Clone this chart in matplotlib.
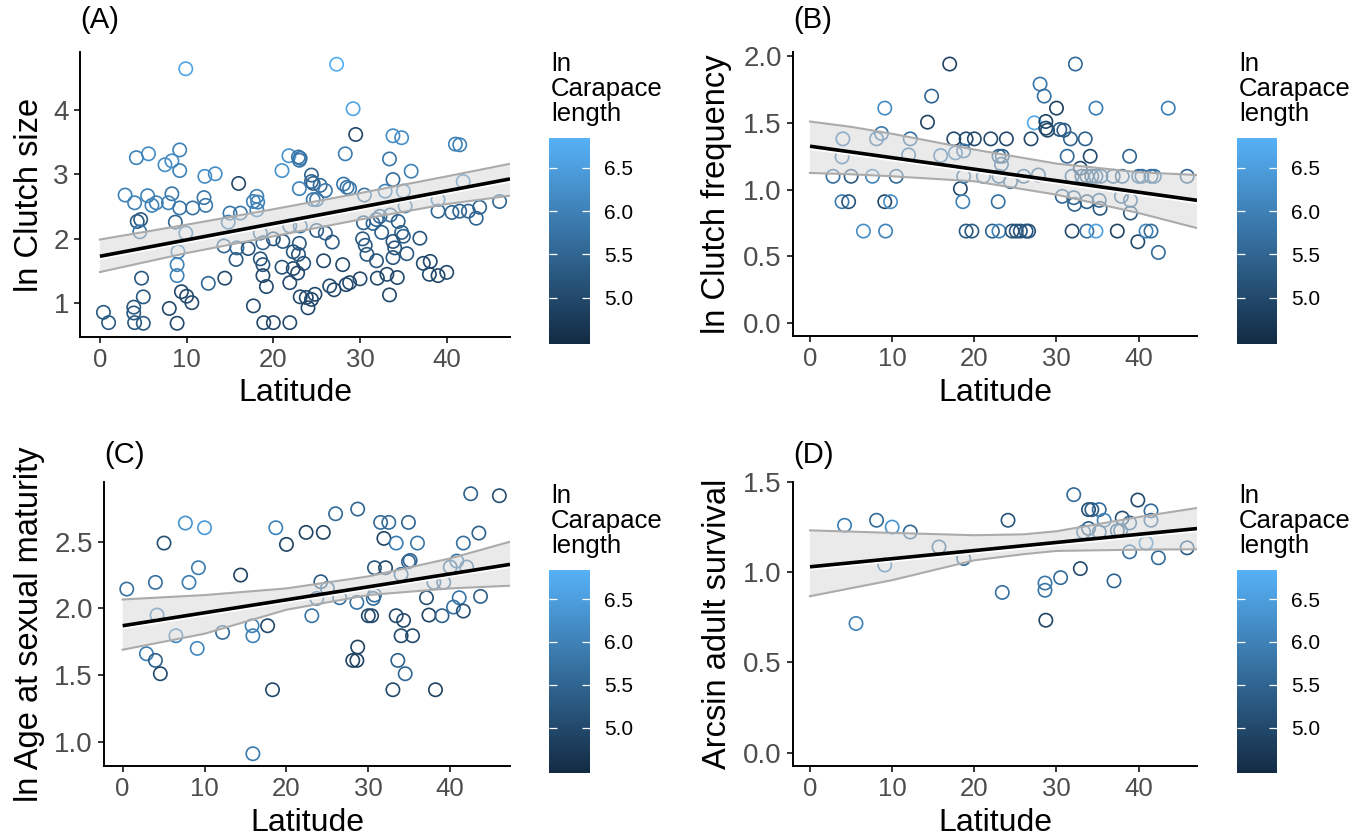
import numpy as np
import matplotlib.pyplot as plt
from matplotlib.colors import LinearSegmentedColormap, Normalize
from matplotlib.transforms import offset_copy

plt.rcParams['font.family'] = ['Liberation Sans', 'DejaVu Sans']

# ---- (A) ln Clutch size ----
lat_a = [9.9, 27.3, 29.2, 29.5, 33.8, 34.8, 41.0, 41.5, 9.2, 5.6, 4.2, 7.5, 8.3, 9.2,
         12.1, 13.3, 21.0, 21.8, 22.9, 23.1, 23.0, 28.3, 33.4, 35.9, 41.9, 16.0, 24.4,
         24.4, 24.6, 25.4, 23.0, 26.0, 28.1, 28.5, 28.8, 33.8, 2.9, 4.0, 5.5, 6.0, 6.5,
         8.3, 7.9, 9.2, 10.7, 12.0, 12.2, 17.7, 18.1, 18.2, 18.1, 15.0, 16.2, 14.8, 24.6,
         25.0, 30.5, 32.9, 35.0, 35.2, 39.0, 39.0, 40.6, 41.5, 42.5, 43.8, 43.4, 46.1,
         4.3, 4.7, 4.6, 8.7, 9.9, 9.0, 8.9, 8.9, 18.5, 18.8, 20.0, 21.1, 21.9, 23.1,
         23.0, 22.3, 22.9, 23.5, 22.3, 22.8, 25.0, 26.0, 26.8, 25.8, 28.0, 30.4, 31.9,
         32.3, 31.5, 32.5, 33.5, 34.4, 34.8, 35.0, 36.9, 30.3, 30.6, 30.8, 31.9, 33.8,
         34.0, 33.8, 35.4, 37.3, 38.1, 38.0, 39.0, 40.0, 14.3, 15.8, 17.1, 15.7, 18.5,
         18.8, 18.8, 19.2, 21.0, 21.9, 14.4, 12.5, 4.8, 5.0, 3.9, 3.9, 4.0, 5.0, 0.4,
         1.0, 8.0, 8.9, 9.4, 10.0, 10.6, 17.7, 18.9, 20.0, 21.9, 23.1, 23.8, 24.4, 24.0,
         24.8, 26.5, 27.0, 28.4, 28.8, 30.0, 32.0, 33.1, 34.3, 33.4]
clutch_a = [4.64, 4.71, 4.02, 3.62, 3.60, 3.57, 3.47, 3.46, 3.38, 3.32, 3.26, 3.15, 3.21,
            3.06, 2.97, 3.01, 3.06, 3.29, 3.27, 3.25, 3.22, 3.32, 3.24, 3.05, 2.89, 2.86,
            2.99, 2.89, 2.86, 2.83, 2.78, 2.75, 2.85, 2.80, 2.78, 2.92, 2.68, 2.56, 2.67,
            2.52, 2.56, 2.70, 2.56, 2.48, 2.48, 2.64, 2.52, 2.58, 2.66, 2.57, 2.45, 2.40,
            2.40, 2.26, 2.61, 2.61, 2.68, 2.74, 2.74, 2.51, 2.61, 2.43, 2.41, 2.43, 2.43,
            2.49, 2.32, 2.58, 2.27, 2.30, 2.11, 2.26, 2.09, 1.80, 1.60, 1.43, 2.09, 1.94,
            2.00, 1.96, 2.20, 2.20, 1.93, 1.80, 1.76, 1.62, 1.54, 1.47, 2.13, 2.09, 1.95,
            1.66, 1.60, 2.25, 2.30, 2.35, 2.24, 2.10, 2.37, 2.27, 2.10, 2.04, 2.01, 2.00,
            1.90, 1.76, 1.66, 1.96, 1.86, 1.71, 1.77, 1.62, 1.65, 1.45, 1.43, 1.48, 1.89,
            1.86, 1.85, 1.68, 1.69, 1.60, 1.43, 1.26, 1.56, 1.32, 1.39, 1.31, 1.39, 1.10,
            0.94, 0.85, 0.70, 0.69, 0.86, 0.70, 0.92, 0.69, 1.18, 1.11, 1.01, 0.96, 0.70,
            0.70, 0.70, 1.10, 1.09, 1.06, 0.93, 1.14, 1.27, 1.21, 1.29, 1.32, 1.38, 1.39,
            1.45, 1.40, 1.13]
cl_a = [6.6, 6.8, 6.6, 5.0, 6.2, 6.2, 6.0, 6.0, 6.0, 6.2, 6.0, 6.2, 6.2, 6.0, 6.2, 6.2,
        6.3, 6.3, 5.8, 5.8, 5.8, 5.9, 5.8, 6.0, 6.2, 5.0, 5.5, 5.5, 5.5, 5.6, 6.0, 5.8,
        5.8, 5.8, 5.8, 5.6, 6.0, 6.0, 6.0, 6.0, 6.0, 5.8, 6.0, 5.8, 5.7, 5.8, 5.8, 6.0,
        6.0, 6.0, 6.0, 5.8, 5.8, 6.0, 5.8, 5.8, 5.8, 6.0, 6.2, 6.0, 6.0, 5.5, 5.5, 5.5,
        5.5, 5.5, 5.5, 5.5, 5.3, 5.3, 5.8, 5.5, 6.0, 6.0, 6.0, 6.0, 5.8, 5.5, 5.2, 5.3,
        5.8, 5.8, 5.3, 5.2, 5.2, 5.2, 5.0, 5.0, 5.4, 5.4, 5.3, 5.0, 5.0, 5.4, 5.5, 5.5,
        5.5, 5.4, 5.6, 5.4, 5.4, 5.4, 5.2, 5.3, 5.3, 5.3, 5.2, 5.2, 5.2, 5.2, 5.3, 5.0,
        5.0, 5.0, 5.0, 5.0, 5.5, 5.6, 5.2, 5.3, 5.2, 5.2, 5.0, 5.0, 5.2, 5.0, 5.0, 5.5,
        5.3, 5.3, 5.3, 5.3, 5.3, 5.3, 5.3, 5.3, 5.0, 5.0, 5.0, 5.0, 5.0, 5.0, 5.0, 5.0,
        5.0, 5.0, 5.0, 5.0, 5.0, 5.0, 5.0, 5.0, 5.0, 5.0, 5.0, 5.0, 5.0, 5.0, 5.0]
fit_x_a = [0, 10, 20, 30, 40, 47.3]
fit_lo_a = [1.485, 1.78, 2.04, 2.30, 2.54, 2.67]
fit_hi_a = [1.99, 2.22, 2.46, 2.71, 2.97, 3.165]
fit_line_a = [1.73, 2.93]

# ---- (B) ln Clutch frequency ----
lat_b = [17.0, 32.3, 14.8, 9.1, 28.0, 28.5, 30.0, 34.8, 43.6, 14.3, 27.3, 28.7, 28.7,
         28.9, 30.4, 30.9, 4.0, 8.1, 8.7, 12.2, 17.5, 19.0, 20.0, 22.0, 23.9, 26.9, 31.7,
         33.5, 17.7, 18.7, 3.9, 12.0, 15.9, 23.0, 23.4, 23.3, 31.3, 34.1, 38.9, 2.8, 5.0,
         7.6, 10.5, 3.9, 4.7, 9.1, 9.8, 6.5, 9.2, 18.3, 18.6, 18.7, 21.1, 23.0, 24.4, 26.0,
         22.9, 19.0, 19.7, 22.2, 23.0, 24.6, 25.1, 25.6, 26.3, 26.6, 27.8, 31.9, 32.9,
         33.1, 33.7, 34.3, 34.8, 35.4, 30.7, 32.1, 32.2, 33.7, 35.2, 35.3, 31.9, 33.7,
         34.8, 36.9, 38.0, 37.9, 39.0, 39.0, 37.4, 40.0, 40.4, 41.5, 41.9, 45.9, 39.9,
         40.9, 41.5, 42.4]
freq_b = [1.94, 1.94, 1.70, 1.61, 1.79, 1.70, 1.61, 1.61, 1.61, 1.505, 1.50, 1.51, 1.46,
          1.445, 1.45, 1.445, 1.38, 1.38, 1.42, 1.38, 1.38, 1.38, 1.38, 1.38, 1.38, 1.38,
          1.38, 1.38, 1.275, 1.29, 1.245, 1.26, 1.255, 1.25, 1.25, 1.19, 1.25, 1.25, 1.25,
          1.10, 1.10, 1.10, 1.10, 0.91, 0.91, 0.91, 0.91, 0.69, 0.69, 1.0075, 0.91, 1.10,
          1.10, 1.10, 1.06, 1.10, 0.91, 0.69, 0.69, 0.69, 0.69, 0.69, 0.69, 0.69, 0.69,
          0.69, 1.11, 1.10, 1.16, 1.10, 1.10, 1.10, 1.10, 1.10, 0.95, 0.94, 0.89, 0.91,
          0.92, 0.86, 0.69, 0.69, 0.69, 1.10, 1.10, 0.95, 0.92, 0.825, 0.69, 1.10, 1.10,
          1.10, 1.10, 1.10, 0.61, 0.69, 0.69, 0.53]
cl_b = [4.9, 5.6, 5.5, 6.2, 5.8, 5.7, 4.9, 5.9, 5.9, 4.9, 6.7, 4.9, 5.0, 5.0, 5.3, 5.3,
        5.9, 5.8, 5.8, 5.7, 5.0, 5.0, 5.0, 5.0, 5.0, 5.0, 5.5, 5.4, 6.0, 5.8, 5.9, 5.8,
        5.9, 5.4, 5.4, 5.6, 5.6, 5.0, 5.5, 5.7, 5.3, 6.1, 5.6, 5.9, 5.2, 5.0, 6.2, 6.2,
        6.0, 5.0, 6.0, 5.8, 5.8, 5.6, 5.6, 5.6, 5.7, 5.3, 5.3, 5.4, 6.0, 5.2, 5.2, 5.2,
        5.2, 5.2, 5.6, 5.6, 5.0, 5.4, 5.4, 5.4, 5.6, 5.6, 5.5, 5.5, 5.5, 5.3, 5.5, 5.3,
        5.0, 5.7, 6.5, 5.5, 5.5, 5.6, 5.6, 5.3, 4.9, 5.7, 5.7, 5.7, 5.7, 5.5, 5.0, 6.0,
        5.6, 5.6]
fit_x_b = [0, 5, 10, 20, 30, 40, 47.1]
fit_lo_b = [1.125, 1.115, 1.10, 1.0625, 0.9625, 0.825, 0.7125]
fit_hi_b = [1.51, 1.47, 1.418, 1.30, 1.195, 1.13, 1.11]
fit_line_b = [1.325, 0.92]

# ---- (C) ln Age at sexual maturity ----
lat_c = [0.5, 4.0, 5.05, 7.66, 10.0, 8.1, 9.25, 4.2, 6.5, 9.1, 2.9, 4.0, 4.6, 12.2, 14.4,
         15.8, 15.9, 17.7, 18.3, 15.9, 18.7, 20.0, 22.4, 24.5, 24.2, 25.0, 23.7, 26.5,
         23.1, 26.0, 28.7, 28.6, 30.0, 30.4, 28.7, 28.1, 28.6, 30.75, 30.6, 30.75, 32.1,
         31.5, 32.5, 31.9, 33.4, 34.9, 36.0, 34.9, 35.1, 34.0, 33.4, 34.3, 34.0, 35.4,
         33.6, 34.5, 33.0, 37.1, 37.4, 39.0, 38.2, 38.0, 39.2, 40.0, 40.8, 42.0, 40.4,
         41.1, 41.6, 41.6, 43.5, 43.7, 42.5, 46.0]
age_c = [2.145, 2.195, 2.49, 2.64, 2.605, 2.195, 2.305, 1.95, 1.795, 1.70, 1.66, 1.61,
         1.51, 1.82, 2.25, 1.87, 1.795, 1.87, 1.39, 0.91, 2.605, 2.48, 2.57, 2.57, 2.20,
         2.15, 2.075, 2.08, 1.945, 2.71, 2.745, 2.045, 1.945, 1.945, 1.71, 1.61, 1.61,
         2.305, 2.075, 2.10, 2.305, 2.645, 2.645, 2.525, 2.49, 2.645, 2.49, 2.35, 2.36,
         2.255, 1.945, 1.91, 1.795, 1.795, 1.61, 1.51, 1.39, 2.08, 1.95, 1.945, 1.39,
         2.195, 2.195, 2.31, 2.355, 2.31, 2.01, 2.08, 1.98, 2.49, 2.565, 2.09, 2.86, 2.845]
cl_c = [5.7, 5.7, 5.1, 6.3, 6.4, 5.9, 5.9, 6.0, 6.1, 6.1, 5.9, 5.4, 5.0, 5.6, 4.9, 6.0,
        6.0, 5.0, 5.0, 5.9, 6.0, 4.9, 4.9, 4.9, 5.3, 5.6, 5.7, 5.7, 5.8, 5.6, 5.5, 5.7,
        5.0, 5.0, 4.9, 4.9, 4.9, 5.3, 5.6, 5.6, 5.0, 5.6, 5.6, 4.9, 5.9, 5.5, 5.8, 5.5,
        5.5, 5.6, 5.0, 5.0, 5.0, 5.0, 5.4, 5.5, 5.0, 5.1, 4.9, 5.4, 4.9, 5.6, 5.6, 5.6,
        5.8, 5.8, 5.7, 5.8, 5.1, 5.7, 5.4, 5.4, 5.4, 5.1]
fit_x_c = [0, 10, 20, 30, 40, 47.3]
fit_lo_c = [1.69, 1.81, 1.99, 2.10, 2.15, 2.17]
fit_hi_c = [2.067, 2.10, 2.15, 2.24, 2.375, 2.5]
fit_line_c = [1.87, 2.33]

# ---- (D) Arcsin adult survival ----
lat_d = [4.2, 8.1, 10.0, 12.2, 9.1, 15.7, 18.7, 5.6, 24.1, 23.4, 28.6, 28.6, 28.7, 30.5,
         32.9, 32.1, 33.9, 34.3, 35.2, 35.8, 38.0, 39.9, 41.5, 41.5, 38.9, 33.9, 33.3,
         35.2, 37.4, 37.8, 37.0, 38.9, 40.9, 42.4, 45.9]
surv_d = [1.26, 1.288, 1.25, 1.223, 1.04, 1.14, 1.076, 0.716, 1.288, 0.888, 0.94, 0.90,
          0.734, 0.97, 1.02, 1.43, 1.347, 1.347, 1.347, 1.288, 1.30, 1.40, 1.34, 1.288,
          1.273, 1.242, 1.223, 1.223, 1.23, 1.23, 0.952, 1.113, 1.162, 1.08, 1.135]
cl_d = [5.9, 5.6, 6.3, 5.5, 5.9, 5.6, 5.6, 6.0, 5.2, 5.7, 5.8, 5.8, 4.9, 5.6, 5.0, 5.6,
        5.1, 5.3, 5.6, 6.0, 5.1, 5.0, 5.6, 5.6, 5.6, 5.4, 5.8, 5.6, 5.4, 5.6, 5.5, 5.7,
        6.3, 5.6, 5.3]
fit_x_d = [0, 10, 20, 26, 30, 40, 47.1]
fit_lo_d = [0.867, 0.956, 1.066, 1.10, 1.118, 1.125, 1.127]
fit_hi_d = [1.232, 1.218, 1.205, 1.21, 1.227, 1.306, 1.356]
fit_line_d = [1.03, 1.242]

cbar_ticks = [5.0, 5.5, 6.0, 6.5]

W, H = 1369, 839
fig = plt.figure(figsize=(W / 100, H / 100), dpi=100)
cmap = LinearSegmentedColormap.from_list('gg_blues', ['#132B43', '#56B1F7'])
norm = Normalize(4.47, 6.84)


def px_axes(l, t, r, b):
    # pixel box -> figure fraction
    return fig.add_axes([l / W, 1 - b / H, (r - l) / W, (b - t) / H])


def draw_panel(box, cbox, tag, tag_y, lat, yv, cl, fx, flo, fhi, fline, xlim, ylim,
               yticks, ylabel, yfmt, ylab_x, xlab_y):
    l, t, r, b = box
    ax = px_axes(*box)
    ax.scatter(lat, yv, s=92, facecolors='none', edgecolors=cmap(norm(np.array(cl))),
               linewidths=1.2, zorder=2)
    ax.fill_between(fx, flo, fhi, facecolor='#d9d9d9', alpha=0.55, lw=0, zorder=3)
    ax.plot(fx, flo, color='#ababab', lw=1.5, zorder=4)
    ax.plot(fx, fhi, color='#ababab', lw=1.5, zorder=4)
    lx = [fx[0], fx[-1]]
    shifted = offset_copy(ax.transData, fig=fig, y=-2.5, units='dots')
    ax.plot(lx, fline, color='white', lw=1.6, zorder=5, transform=shifted)
    ax.plot(lx, fline, color='black', lw=2.6, zorder=6, solid_capstyle='butt')

    ax.set_xlim(*xlim)
    ax.set_ylim(*ylim)
    ax.set_xticks([0, 10, 20, 30, 40])
    ax.set_yticks(yticks)
    ax.set_yticklabels([yfmt.format(v) for v in yticks])
    for s in ['top', 'right']:
        ax.spines[s].set_visible(False)
    for s in ['left', 'bottom']:
        ax.spines[s].set_linewidth(1.4)
    ax.tick_params(length=4, width=1.1, labelcolor='#4D4D4D')
    ax.tick_params(axis='x', labelsize=18.5, pad=4)
    ax.tick_params(axis='y', labelsize=20, pad=4)
    ax.set_xlabel('Latitude', fontsize=23)
    ax.set_ylabel(ylabel, fontsize=23.5)
    ax.xaxis.set_label_coords(0.5, (b - xlab_y) / (b - t))
    ax.xaxis.label.set_va('center')
    ax.yaxis.set_label_coords((ylab_x - l) / (r - l), 0.5)
    ax.yaxis.label.set_va('center')
    fig.text(l / W, 1 - tag_y / H, tag, fontsize=21, va='center', ha='left')

    cax = px_axes(*cbox)
    sm = plt.cm.ScalarMappable(norm=norm, cmap=cmap)
    cb = fig.colorbar(sm, cax=cax)
    cb.outline.set_visible(False)
    cb.set_ticks(cbar_ticks)
    cb.set_ticklabels([f'{v:.1f}' for v in cbar_ticks])
    cax.yaxis.set_ticks_position('both')
    cax.tick_params(direction='in', color='white', length=6, width=0.9,
                    labelsize=15, labelright=True, labelleft=False, pad=10)
    fig.text((cbox[0] + 2) / W, 1 - (cbox[1] - 86) / H, 'ln\nCarapace\nlength',
             fontsize=18.5, va='top', ha='left', linespacing=1.05)
    return ax


draw_panel((80, 52, 510, 337), (549, 138, 590, 344), '(A)', 20, lat_a, clutch_a, cl_a,
           fit_x_a, fit_lo_a, fit_hi_a, fit_line_a, (-2.3, 47.3), (0.477, 4.90),
           [1, 2, 3, 4], 'ln Clutch size', '{:.0f}', 30, 393)
draw_panel((793, 52, 1197, 336), (1237, 138, 1277, 344), '(B)', 20, lat_b, freq_b, cl_b,
           fit_x_b, fit_lo_b, fit_hi_b, fit_line_b, (-2.07, 47.1), (-0.095, 2.03),
           [0.0, 0.5, 1.0, 1.5, 2.0], 'ln Clutch frequency', '{:.1f}', 717, 393)
draw_panel((104, 482, 510, 766), (549, 570, 590, 773), '(C)', 455, lat_c, age_c, cl_c,
           fit_x_c, fit_lo_c, fit_hi_c, fit_line_c, (-2.28, 47.3), (0.818, 2.948),
           [1.0, 1.5, 2.0, 2.5], 'ln Age at sexual maturity', '{:.1f}', 30, 823)
draw_panel((793, 482, 1197, 766), (1237, 570, 1277, 773), '(D)', 455, lat_d, surv_d, cl_d,
           fit_x_d, fit_lo_d, fit_hi_d, fit_line_d, (-2.07, 47.1), (-0.074, 1.5),
           [0.0, 0.5, 1.0, 1.5], 'Arcsin adult survival', '{:.1f}', 717, 823)

fig.savefig('out.png', dpi=100)
